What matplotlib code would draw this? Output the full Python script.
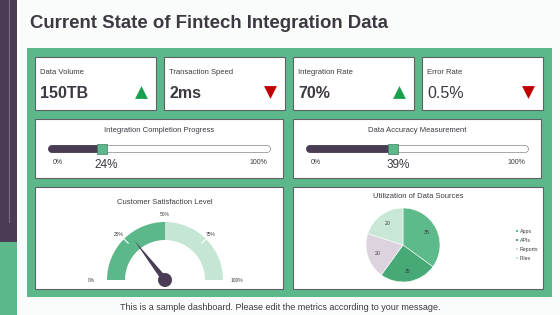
import matplotlib
matplotlib.use("Agg")
import numpy as np
from matplotlib import pyplot as plt
from matplotlib.patches import Rectangle, Wedge, Polygon, Circle

plt.rcParams['font.family'] = ['Liberation Sans', 'DejaVu Sans']

# ---- data ----
kpi_names = ["Data Volume", "Transaction Speed", "Integration Rate", "Error Rate"]
kpi_values = ["150TB", "2ms", "70%", "0.5%"]
kpi_bold = [True, True, True, False]
kpi_trend = ["up", "down", "up", "down"]

progress_titles = ["Integration Completion Progress", "Data Accuracy Measurement"]
progress_values = [24, 39]

gauge_title = "Customer Satisfaction Level"
gauge_value = 29
gauge_bands = [0, 50, 100]
gauge_ticks = [0, 25, 50, 75, 100]

pie_title = "Utilization of Data Sources"
sources = ["Apps", "APIs", "Reports", "Files"]
source_values = [35, 25, 20, 20]

title = "Current State of Fintech Integration Data"
footer = "This is a sample dashboard. Please edit the metrics according to your message."

# ---- style ----
W, H = 560, 315
PURPLE = "#4b3c55"
GREEN = "#5cb88a"
LIGHT = "#c6e6d5"
BORDER = "#5d6166"
TEXT = "#3d3842"
pie_colors = ["#5dba8a", "#47a975", "#ddd3df", "#c8e7d6"]

fig = plt.figure(figsize=(W / 100, H / 100), dpi=100)
fig.patch.set_facecolor("#fafcfb")
ax = fig.add_axes([0, 0, 1, 1])
ax.set_xlim(0, W)
ax.set_ylim(H, 0)
ax.axis("off")


def px_axes(x0, y0, x1, y1):
    a = fig.add_axes([x0 / W, 1 - y1 / H, (x1 - x0) / W, (y1 - y0) / H])
    a.axis("off")
    return a


def card(x0, y0, x1, y1):
    ax.add_patch(Rectangle((x0, y0), x1 - x0, y1 - y0, facecolor="white",
                           edgecolor=BORDER, lw=0.8))


# sidebar
ax.add_patch(Rectangle((0, 0), 17, 242, facecolor=PURPLE, lw=0))
ax.add_patch(Rectangle((0, 242), 17, 73, facecolor=GREEN, lw=0))
ax.plot([9, 9], [0, 222], color="#7a6b83", lw=0.8)

ax.text(30, 24, title, fontsize=13.4, fontweight="bold", color=TEXT, va="center")

# green panel
ax.add_patch(Rectangle((27, 48), 525, 249, facecolor=GREEN, lw=0))

# KPI cards
card_x = [35, 164, 293, 422]
for i, name in enumerate(kpi_names):
    x0 = card_x[i]
    x1 = x0 + 121
    card(x0, 57, x1, 110)
    ax.text(x0 + 5, 72, name, fontsize=5.5, color=TEXT, va="center")
    ax.text(x0 + 5, 93, kpi_values[i], fontsize=11.5, color=TEXT, va="center",
            fontweight="bold" if kpi_bold[i] else "normal")
    up = kpi_trend[i] == "up"
    ax.scatter(x1 - 15, 92, marker="^" if up else "v", s=85,
               color="#18a04f" if up else "#c00000", lw=0)

# progress cards
for i, t in enumerate(progress_titles):
    x0 = 35 + i * 258
    card(x0, 119, x0 + 248, 178)
    ax.text(x0 + 124, 130, t, fontsize=5.5, color=TEXT, ha="center", va="center")
    bx0, bx1 = x0 + 13, x0 + 236
    pa = px_axes(bx0 - 6, 142, bx1 + 6, 156)
    pad = 6 * 100 / (bx1 - bx0)
    cap = 3.6 * 100 / (bx1 - bx0)
    pa.set_xlim(-pad, 100 + pad)
    pa.set_ylim(-1, 1)
    pa.plot([cap, 100 - cap], [0, 0], color="#8d8494", lw=5.6, solid_capstyle="round")
    pa.plot([cap, 100 - cap], [0, 0], color="white", lw=4.6, solid_capstyle="round")
    v = progress_values[i]
    pa.plot([cap, v], [0, 0], color=PURPLE, lw=5.6, solid_capstyle="round")
    pa.scatter([v], [0], marker="s", s=58, color=GREEN, edgecolor="#3f7f60",
               lw=0.5, zorder=5)
    ax.text(bx0 + 10, 162, "0%", fontsize=5, color=TEXT, ha="center", va="center")
    ax.text(bx1 - 13, 162, "100%", fontsize=5, color=TEXT, ha="center", va="center")
    ax.text(bx0 + (bx1 - bx0) * v / 100 + 5, 165, f"{v}%", fontsize=8.5,
            color=TEXT, ha="center", va="center")

# gauge card
card(35, 187, 283, 289)
ax.text(165, 202, gauge_title, fontsize=5.5, color=TEXT, ha="center", va="center")
ga = px_axes(85, 208, 245, 290)
ga.set_xlim(-80, 80)
ga.set_ylim(-10, 72)
r_out, r_in = 58, 40
band_colors = [GREEN, LIGHT]
for j in range(len(gauge_bands) - 1):
    a1 = 180 - gauge_bands[j + 1] * 1.8
    a2 = 180 - gauge_bands[j] * 1.8
    ga.add_patch(Wedge((0, 0), r_out, a1, a2, width=r_out - r_in,
                       facecolor=band_colors[j], lw=0))
for t in gauge_ticks:
    ang = np.radians(180 - t * 1.8)
    if t in (25, 75):
        ga.plot([(r_out - 6) * np.cos(ang), r_out * np.cos(ang)],
                [(r_out - 6) * np.sin(ang), r_out * np.sin(ang)], color="white", lw=0.8)
    if t == 0:
        ga.text(-70, 0, f"{t}%", fontsize=3.5, color=TEXT, ha="right", va="center")
    elif t == 100:
        ga.text(66, 0, f"{t}%", fontsize=3.5, color=TEXT, ha="left", va="center")
    else:
        ga.text(65 * np.cos(ang), 65 * np.sin(ang), f"{t}%", fontsize=3.5,
                color=TEXT, ha="center", va="center")
na = np.radians(180 - gauge_value * 1.8)
perp = na + np.pi / 2
tip = (50 * np.cos(na), 50 * np.sin(na))
ga.add_patch(Polygon([tip, (3 * np.cos(perp), 3 * np.sin(perp)),
                      (-3 * np.cos(perp), -3 * np.sin(perp))], facecolor=PURPLE, lw=0))
ga.add_patch(Circle((0, 0), 7, facecolor=PURPLE, lw=0))

# pie card
card(293, 187, 543, 289)
ax.text(418, 196, pie_title, fontsize=5.5, color=TEXT, ha="center", va="center")
pa = px_axes(366, 208, 440, 282)
pa.pie(source_values, labels=[str(v) for v in source_values], colors=pie_colors,
       startangle=90, counterclock=False, labeldistance=0.72,
       wedgeprops=dict(edgecolor="white", linewidth=0.4),
       textprops=dict(fontsize=3.8, color=TEXT, ha="center", va="center"))
pa.set_xlim(-1, 1)
pa.set_ylim(-1, 1)
for k, name in enumerate(sources):
    yy = 231 + 9 * k
    ax.scatter(517, yy, marker="s", s=3, color=pie_colors[k], lw=0)
    ax.text(519.5, yy, name, fontsize=3.8, color=TEXT, va="center")

ax.text(280, 307, footer, fontsize=6.5, color=TEXT, ha="center", va="center")

fig.savefig("out.png", dpi=100, facecolor=fig.get_facecolor())
